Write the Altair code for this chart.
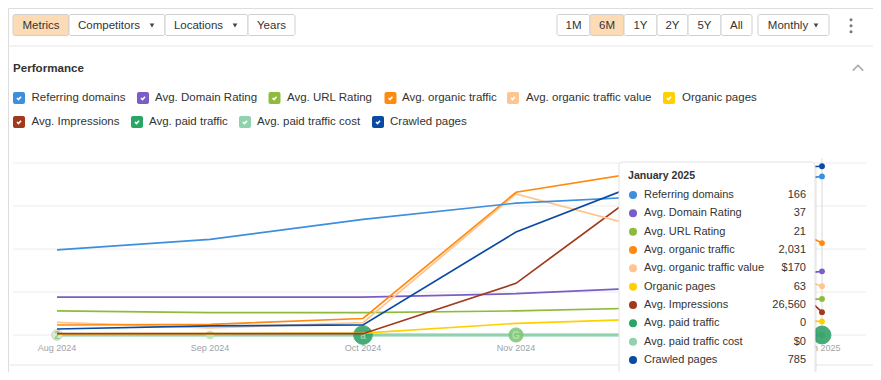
import altair as alt
import pandas as pd

# ------------------------------------------------------------------ data
months = ["Aug 2024", "Sep 2024", "Oct 2024", "Nov 2024", "Dec 2024", "Jan 2025"]

series_names = [
    "Referring domains", "Avg. Domain Rating", "Avg. URL Rating", "Avg. organic traffic",
    "Avg. organic traffic value", "Organic pages", "Avg. Impressions", "Avg. paid traffic",
    "Avg. paid traffic cost", "Crawled pages",
]
referring_domains = [89, 100, 121, 138, 146, 166]
domain_rating = [22, 22, 22, 24, 28, 37]
url_rating = [14, 13, 13, 14, 16, 21]
organic_traffic = [221, 236, 365, 3153, 3690, 2031]
organic_traffic_value = [44, 25, 43, 492, 350, 170]
organic_pages = [5, 6, 9, 54, 77, 63]
impressions = [1500, 1500, 1500, 60100, 191200, 26560]
paid_traffic = [0, 0, 0, 0, 0, 0]
paid_traffic_cost = [0, 0, 0, 0, 0, 0]
crawled_pages = [28, 42, 47, 479, 755, 785]
series_values = [referring_domains, domain_rating, url_rating, organic_traffic,
                 organic_traffic_value, organic_pages, impressions, paid_traffic,
                 paid_traffic_cost, crawled_pages]

tooltip_title = "January 2025"
tooltip_values = ["166", "37", "21", "2,031", "$170", "63", "26,560", "0", "$0", "785"]

annotation_months = ["Aug 2024", "Sep 2024", "Oct 2024", "Nov 2024", "Jan 2025"]
annotation_labels = ["2", "", "a", "G", ""]

left_buttons = ["Metrics", "Competitors", "Locations", "Years"]
range_buttons = ["1M", "6M", "1Y", "2Y", "5Y", "All"]
interval_label = "Monthly"
section_title = "Performance"

# month label hidden behind the open tooltip in the reference
covered_month_label = "Dec 2024"

# ------------------------------------------------------------------ styles / layout
series_colors = ["#3d8fdd", "#7a5dc5", "#8fbb3c", "#ff8a0f", "#ffc58e", "#ffd000",
                 "#a1391c", "#27a664", "#8fd3ae", "#0b4aa2"]
series_widths = [1.7, 1.7, 1.7, 1.7, 1.7, 1.7, 1.7, 2.6, 2.6, 1.7]
series_scale_max = [180, 100, 100, 3800, 600, 800, 200000, 1, 1, 800]
draw_order_low = [7, 8]
draw_order_high = [1, 2, 5, 6, 4, 3, 0, 9]

W, H = 865, 364
OX, OY = 8, 8
FONT = "Liberation Sans"
TEXT = "#333333"
UI_FS = 11.5
TT_FS = 11


def X(v):
    return v - OX


def Y(v):
    return v - OY


PLOT_X0, PLOT_X1 = 57, 822
PLOT_TOP, PLOT_BASE = 163, 335
GRID_X0, GRID_X1 = 13, 866

x_month = alt.X("month:N", sort=months,
                scale=alt.Scale(type="point", domain=months, range=[X(PLOT_X0), X(PLOT_X1)], padding=0),
                axis=None)


def px(field):
    return alt.X(f"{field}:Q", scale=None, axis=None)


def py(field):
    return alt.Y(f"{field}:Q", scale=None, axis=None)


layers = []

# ---- header separators
sep_df = pd.DataFrame({"x": [X(0), X(0)], "x2": [X(881), X(881)], "y": [Y(46), Y(365)]})
layers.append(alt.Chart(sep_df).mark_rule(color="#e6e6e6", strokeWidth=1).encode(
    x=px("x"), x2="x2:Q", y=py("y")))

# ---- buttons
btn_labels = left_buttons + range_buttons + [interval_label]
btn_x0 = [13, 69, 165, 248, 557, 590, 624, 657, 688, 721, 758]
btn_x1 = [69, 165, 248, 295, 590, 624, 657, 688, 721, 752, 829]
btn_tx = [41, 109, 198.5, 271.5, 573.5, 607, 640.5, 672.5, 704.5, 736.5, 788]
selected = {"Metrics", "6M"}
btn_df = pd.DataFrame({
    "label": btn_labels,
    "x0": [X(v) for v in btn_x0], "x1": [X(v) for v in btn_x1],
    "tx": [X(v) for v in btn_tx],
    "y0": Y(14.5), "y1": Y(35.5), "ty": Y(25.5),
    "fill": ["#fddcb5" if b in selected else "#ffffff" for b in btn_labels],
})
layers.append(alt.Chart(btn_df).mark_rect(stroke="#cfcfcf", strokeWidth=1, cornerRadius=2).encode(
    x=px("x0"), x2="x1:Q", y=py("y0"), y2="y1:Q", fill=alt.Fill("fill:N", scale=None)))
layers.append(alt.Chart(btn_df).mark_text(fontSize=UI_FS, color=TEXT, align="center", baseline="middle").encode(
    x=px("tx"), y=py("ty"), text="label:N"))

arrow_df = pd.DataFrame({"x": [X(152), X(235), X(816)], "y": [Y(25.5)] * 3})
layers.append(alt.Chart(arrow_df).mark_point(shape="triangle-down", filled=True, size=22, color="#444444",
                                             opacity=1).encode(x=px("x"), y=py("y")))

kebab_df = pd.DataFrame({"x": [X(851)] * 3, "y": [Y(19.7), Y(25.7), Y(31.7)]})
layers.append(alt.Chart(kebab_df).mark_point(shape="circle", filled=True, size=9, color="#777777",
                                             opacity=1).encode(x=px("x"), y=py("y")))

# ---- section title and chevron
title_df = pd.DataFrame({"t": [section_title], "x": [X(13)], "y": [Y(69)]})
layers.append(alt.Chart(title_df).mark_text(fontSize=11.6, fontWeight="bold", color=TEXT, align="left",
                                            baseline="middle").encode(x=px("x"), y=py("y"), text="t:N"))
chev_df = pd.DataFrame({"x": [X(858)], "y": [Y(68)]})
layers.append(alt.Chart(chev_df).mark_point(shape="M-1,0.5L0,-0.5L1,0.5", filled=False, size=110,
                                            color="#aaaaaa", strokeWidth=1.5, opacity=1).encode(
    x=px("x"), y=py("y")))

# ---- legend (check boxes)
legend_row = [0, 0, 0, 0, 0, 0, 1, 1, 1, 1]
legend_box_x = [13, 137, 268.5, 384.5, 507, 663, 13, 131, 239, 372]
legend_label_x = [31.5, 155, 287, 402, 526, 682, 31.5, 149, 257, 390]
legend_row_y = [98, 122]
leg_df = pd.DataFrame({
    "name": series_names,
    "bx0": [X(v) for v in legend_box_x],
    "bx1": [X(v + 12) for v in legend_box_x],
    "bxc": [X(v + 6) for v in legend_box_x],
    "lx": [X(v) for v in legend_label_x],
    "yc": [Y(legend_row_y[r]) for r in legend_row],
    "y0": [Y(legend_row_y[r] - 6) for r in legend_row],
    "y1": [Y(legend_row_y[r] + 6) for r in legend_row],
    "col": series_colors,
})
layers.append(alt.Chart(leg_df).mark_rect(cornerRadius=2).encode(
    x=px("bx0"), x2="bx1:Q", y=py("y0"), y2="y1:Q", fill=alt.Fill("col:N", scale=None)))
layers.append(alt.Chart(leg_df).mark_point(shape="M-0.6,0L-0.15,0.45L0.6,-0.4", filled=False, size=45,
                                           color="#ffffff", strokeWidth=1.6, opacity=1).encode(
    x=px("bxc"), y=py("yc")))
layers.append(alt.Chart(leg_df).mark_text(fontSize=UI_FS, color=TEXT, align="left", baseline="middle").encode(
    x=px("lx"), y=py("yc"), text="name:N"))

# ---- grid
grid_df = pd.DataFrame({"level": [0, 0.25, 0.5, 0.75, 1.0]})
layers.append(alt.Chart(grid_df).mark_rule(color="#ececec", strokeWidth=1).encode(
    y=alt.Y("level:Q", scale=alt.Scale(domain=[0, 1], range=[Y(PLOT_BASE), Y(PLOT_TOP)], nice=False),
            axis=None),
    x=alt.value(X(GRID_X0)), x2=alt.value(X(GRID_X1))))

# ---- crosshair at the hovered month
cross_df = pd.DataFrame({"month": [months[-1]]})
layers.append(alt.Chart(cross_df).mark_rule(color="#e6e6e6", strokeWidth=1.5).encode(
    x=x_month, y=alt.value(Y(158)), y2=alt.value(Y(342))))


def series_layer(i):
    df = pd.DataFrame({"month": months, "value": series_values[i], "series": series_names[i]})
    yenc = alt.Y("value:Q", scale=alt.Scale(domain=[0, series_scale_max[i]],
                                             range=[Y(PLOT_BASE), Y(PLOT_TOP)], nice=False, zero=True),
                 axis=None)
    line = alt.Chart(df).mark_line(color=series_colors[i], strokeWidth=series_widths[i]).encode(
        x=x_month, y=yenc)
    pt = alt.Chart(df[df["month"] == months[-1]]).mark_point(
        filled=True, size=34, color=series_colors[i], opacity=1).encode(x=x_month, y=yenc)
    return alt.layer(line, pt)


for i in draw_order_low:
    layers.append(series_layer(i))

# ---- annotation markers on the baseline
ann_size = [110, 60, 350, 200, 320]
ann_fill = ["#d6eed2", "#bfe4b8", "#34a26a", "#80c777", "#34a26a"]
ann_stroke = ["#c9c9c9", "#bfe4b8", "#34a26a", "#80c777", "#34a26a"]
ann_tcol = ["#8fc98a", "#bfe4b8", "#93d3ac", "#b5e0ab", "#34a26a"]
ann_df = pd.DataFrame({"month": annotation_months, "label": annotation_labels, "size": ann_size,
                       "fill": ann_fill, "stroke": ann_stroke, "tcol": ann_tcol})
layers.append(alt.Chart(ann_df).mark_point(filled=True, shape="circle", opacity=0.9, strokeWidth=1).encode(
    x=x_month, y=alt.value(Y(PLOT_BASE)), size=alt.Size("size:Q", scale=None, legend=None),
    fill=alt.Fill("fill:N", scale=None), stroke=alt.Stroke("stroke:N", scale=None)))
layers.append(alt.Chart(ann_df).mark_text(fontSize=10, fontWeight="bold", align="center",
                                          baseline="middle").encode(
    x=x_month, y=alt.value(Y(PLOT_BASE) + 0.5), text="label:N", color=alt.Color("tcol:N", scale=None)))

for i in draw_order_high:
    layers.append(series_layer(i))

# ---- month labels
mon_df = pd.DataFrame({"month": [m for m in months if m != covered_month_label]})
layers.append(alt.Chart(mon_df).mark_text(fontSize=9, color="#9ea3a8", align="center",
                                          baseline="middle").encode(
    x=x_month, y=alt.value(Y(348)), text="month:N"))

# ---- tooltip
TT_X0, TT_X1, TT_Y0, TT_Y1 = 619, 815, 162, 375
shadow_df = pd.DataFrame({"x0": [X(TT_X0 + 1)], "x1": [X(TT_X1 + 2)], "y0": [Y(TT_Y0 + 2)], "y1": [Y(TT_Y1 + 2)]})
layers.append(alt.Chart(shadow_df).mark_rect(color="#000000", opacity=0.06, cornerRadius=5).encode(
    x=px("x0"), x2="x1:Q", y=py("y0"), y2="y1:Q"))
box_df = pd.DataFrame({"x0": [X(TT_X0)], "x1": [X(TT_X1)], "y0": [Y(TT_Y0)], "y1": [Y(TT_Y1)]})
layers.append(alt.Chart(box_df).mark_rect(fill="#ffffff", stroke="#e2e2e2", strokeWidth=1,
                                          cornerRadius=4).encode(
    x=px("x0"), x2="x1:Q", y=py("y0"), y2="y1:Q"))
tt_title_df = pd.DataFrame({"t": [tooltip_title], "x": [X(628)], "y": [Y(176)]})
layers.append(alt.Chart(tt_title_df).mark_text(fontSize=10.6, fontWeight="bold", color=TEXT, align="left",
                                               baseline="middle").encode(x=px("x"), y=py("y"), text="t:N"))
row_y = [Y(195 + k * 18.33) for k in range(len(series_names))]
tt_df = pd.DataFrame({"name": series_names, "val": tooltip_values, "col": series_colors, "y": row_y,
                      "cx": X(633), "lx": X(644), "vx": X(806)})
layers.append(alt.Chart(tt_df).mark_point(filled=True, shape="circle", size=64, opacity=1).encode(
    x=px("cx"), y=py("y"), fill=alt.Fill("col:N", scale=None)))
layers.append(alt.Chart(tt_df).mark_text(fontSize=TT_FS, color=TEXT, align="left", baseline="middle").encode(
    x=px("lx"), y=py("y"), text="name:N"))
layers.append(alt.Chart(tt_df).mark_text(fontSize=TT_FS, color=TEXT, align="right", baseline="middle").encode(
    x=px("vx"), y=py("y"), text="val:N"))

chart = alt.layer(*layers).resolve_scale(x="independent", y="independent").properties(
    width=W, height=H, padding=0, autosize="none", background="#ffffff"
).configure_view(strokeWidth=0).configure(font=FONT)

chart.save("out.html", embed_options={"renderer": "svg", "actions": False})
